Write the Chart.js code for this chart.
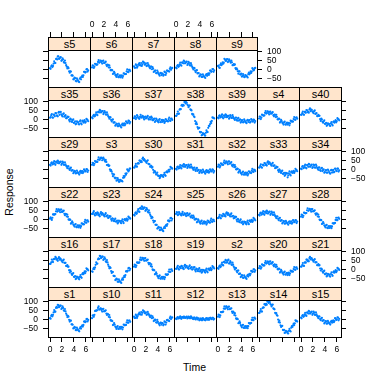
<!DOCTYPE html>
<html>
<head>
<meta charset="utf-8">
<script src="https://cdn.jsdelivr.net/npm/chart.js"></script>
<style>
  html, body { margin: 0; padding: 0; background: #fff; }
  #stage { position: relative; width: 382px; height: 382px; overflow: hidden; font-family: "Liberation Sans", Arial, Helvetica, sans-serif; }
  .strip { position: absolute; box-sizing: border-box; border: 1px solid #000; background: #FFE5CC;
           font-size: 11px; line-height: 12px; text-align: center; color: #000; z-index: 0; }
  .frame { position: absolute; box-sizing: border-box; border: 1px solid #000; z-index: 2; pointer-events: none; }
  canvas { position: absolute; z-index: 1; }
  .lab { position: absolute; font-size: 10.5px; line-height: 12px; color: #000; white-space: nowrap; }
</style>
</head>
<body>
<div id="stage"></div>
<script>
// time points shared by every subject: readings on the even grid and in between
const times = [0, 0.2, 0.4, 0.6, 0.8, 1.0, 1.2, 1.4, 1.6, 1.8, 2.0, 2.2, 2.4, 2.6, 2.8, 3.0,
  3.2, 3.4, 3.6, 3.8, 4.0, 4.2, 4.4, 4.6, 4.8, 5.0, 5.2, 5.4, 5.6, 5.8, 6.0, 6.2, 6.4];
const timesB = [0.1, 0.3, 0.5, 0.7, 0.9, 1.1, 1.3, 1.5, 1.7, 1.9, 2.1, 2.3, 2.5, 2.7, 2.9, 3.1,
  3.3, 3.5, 3.7, 3.9, 4.1, 4.3, 4.5, 4.7, 4.9, 5.1, 5.3, 5.5, 5.7, 5.9, 6.1, 6.3];
const timeTicks = [0, 2, 4, 6];
const responseTicks = [-50, 0, 50, 100];

// responses per subject
const s5  = [8, 18, 14, 33, 36, 58, 55, 72, 60, 68, 52, 55, 38, 36, 16, 14, -9, -10, -32, -33, -52, -47, -64, -55, -66, -50, -53, -33, -31, -12, -13, 3, -4];
const s5b = [4, 23, 20, 45, 36, 60, 72, 59, 66, 48, 61, 41, 49, 24, 6, 8, -17, -11, -31, -53, -44, -61, -48, -61, -68, -43, -40, -40, -12, -16, 1, -11];
const s6  = [12, 21, 16, 30, 27, 42, 38, 49, 41, 47, 36, 39, 26, 27, 12, 11, -4, -4, -20, -19, -33, -29, -40, -34, -42, -31, -35, -22, -24, -10, -13, -2, -8];
const s6b = [23, 9, 32, 27, 28, 52, 40, 48, 33, 49, 37, 43, 19, 25, 23, -3, -2, -24, -12, -29, -40, -25, -42, -31, -36, -44, -20, -25, -24, 1, -14, -1];
const s7  = [18, 10, 22, 17, 30, 24, 36, 28, 38, 27, 34, 22, 27, 12, 17, 2, 5, -9, -6, -20, -14, -27, -19, -30, -22, -28, -15, -19, -5, -8, 4, -1, 9];
const s7b = [10, 28, 10, 26, 35, 23, 20, 43, 38, 28, 19, 36, 20, 7, 16, 13, -13, -5, -19, -5, -23, -33, -18, -22, -33, -11, -29, -6, -8, -11, 12, 6];
const s8  = [11, 20, 15, 28, 25, 38, 34, 45, 36, 43, 31, 36, 22, 24, 9, 10, -6, -5, -21, -19, -33, -28, -40, -33, -41, -30, -34, -20, -21, -6, -9, 3, -4];
const s8b = [7, 25, 19, 38, 21, 40, 49, 34, 42, 25, 42, 24, 35, 15, 1, 8, -14, -3, -19, -37, -26, -40, -26, -38, -46, -24, -24, -29, -5, -12, 3, -12];
const s9  = [19, 12, 26, 24, 40, 38, 55, 48, 58, 46, 51, 38, 40, 24, 25, 8, 7, -9, -10, -26, -22, -36, -31, -41, -33, -38, -25, -26, -10, -11, 3, -1, 9];
const s9b = [22, 9, 34, 30, 32, 59, 48, 56, 41, 56, 44, 49, 24, 30, 28, 2, 1, -22, -10, -27, -38, -24, -41, -30, -35, -43, -17, -20, -18, 8, -5, 8];
const s35  = [10, 24, 12, 27, 18, 35, 22, 38, 26, 42, 22, 30, 16, 24, 8, 14, -2, 5, -10, -3, -18, -9, -22, -12, -25, -10, -20, -8, -16, -3, -12, 0, -9];
const s35b = [13, 30, 10, 25, 35, 22, 18, 42, 39, 29, 17, 34, 20, 8, 17, 15, -10, 1, -13, 2, -16, -26, -10, -15, -26, -4, -26, -6, -11, -17, 4, -3];
const s36  = [12, 20, 17, 29, 28, 41, 39, 49, 42, 47, 37, 40, 27, 28, 14, 13, -2, -1, -17, -15, -29, -24, -36, -29, -37, -28, -32, -21, -24, -13, -16, -7, -13];
const s36b = [7, 26, 20, 40, 24, 44, 53, 39, 47, 30, 47, 29, 40, 19, 5, 12, -10, 1, -15, -33, -22, -36, -22, -34, -43, -22, -24, -31, -10, -19, -6, -21];
const s37  = [8, 16, 10, 19, 7, 15, 12, 20, 9, 14, 6, 15, 4, 12, 1, 9, -3, 5, -7, 2, -10, -2, -13, -4, -12, -3, -11, -1, -8, 3, -5, 4, -2];
const s37b = [18, 3, 24, 11, 4, 26, 12, 18, 1, 17, 10, 20, 0, 12, 16, -3, 3, -13, 6, -7, -15, 3, -14, -1, -7, -18, 3, -7, -10, 11, -7, 5];
const s38  = [20, 32, 31, 54, 57, 80, 81, 96, 88, 92, 77, 76, 56, 50, 27, 18, -8, -15, -41, -46, -67, -68, -83, -78, -86, -72, -67, -45, -35, -12, -7, 10, 6];
const s38b = [22, 44, 33, 58, 77, 74, 77, 97, 95, 82, 68, 77, 53, 31, 29, 14, -23, -25, -50, -45, -70, -86, -74, -78, -87, -59, -68, -34, -25, -19, 12, 10];
const s39  = [11, 20, 12, 21, 13, 22, 14, 24, 15, 21, 12, 19, 9, 15, 4, 10, -1, 6, -6, 1, -11, -4, -14, -6, -15, -5, -13, -3, -12, -1, -10, -2, -8];
const s39b = [7, 23, 14, 28, 7, 22, 28, 13, 20, 5, 24, 9, 24, 8, -2, 11, -6, 10, -2, -16, -3, -15, 1, -12, -20, -1, -5, -16, 3, -10, 0, -16];
const s4  = [6, 15, 11, 25, 22, 37, 33, 45, 36, 42, 32, 37, 24, 27, 14, 15, 1, 4, -11, -8, -20, -15, -26, -19, -27, -18, -21, -8, -10, 3, 0, 10, 5];
const s4b = [17, 3, 27, 22, 23, 47, 35, 44, 28, 44, 34, 41, 18, 26, 26, 2, 5, -16, -2, -17, -27, -11, -28, -16, -22, -31, -6, -11, -11, 14, -1, 12];
const s40  = [26, 35, 29, 42, 37, 50, 44, 55, 46, 53, 41, 46, 31, 35, 19, 20, 3, 6, -12, -9, -23, -18, -30, -23, -32, -21, -26, -13, -17, -3, -8, 3, -4];
const s40b = [27, 44, 26, 42, 52, 40, 38, 61, 55, 44, 35, 50, 33, 19, 26, 21, -7, 0, -17, -4, -23, -34, -20, -24, -35, -13, -32, -9, -11, -15, 8, 2];
const s29  = [26, 35, 28, 38, 32, 42, 36, 44, 37, 43, 33, 38, 26, 29, 16, 18, 5, 7, -6, -3, -14, -10, -19, -13, -21, -12, -18, -8, -13, -3, -8, 1, -5];
const s29b = [22, 39, 30, 46, 26, 43, 49, 34, 42, 26, 44, 27, 40, 21, 8, 18, -2, 11, -4, -20, -7, -21, -5, -18, -27, -7, -10, -19, 1, -10, 3, -13];
const s3  = [26, 35, 32, 44, 43, 55, 54, 62, 64, 60, 58, 44, 42, 24, 20, 1, -3, -22, -26, -44, -45, -58, -56, -66, -60, -62, -45, -43, -22, -20, -3, -4, 6];
const s3b = [37, 24, 47, 42, 42, 67, 54, 66, 51, 66, 50, 53, 25, 27, 22, -7, -11, -36, -27, -48, -61, -47, -66, -56, -60, -65, -35, -35, -28, 1, -10, 5];
const s30  = [11, 20, 18, 33, 33, 49, 47, 59, 51, 52, 44, 47, 32, 28, 18, 10, -1, -8, -17, -24, -32, -34, -40, -33, -36, -28, -30, -14, -15, -1, 0, 10, 5];
const s30b = [12, 31, 16, 35, 49, 41, 41, 65, 57, 45, 37, 51, 30, 15, 20, 14, -16, -10, -27, -16, -35, -47, -30, -31, -40, -18, -34, -9, -9, -10, 15, 10];
const s31  = [4, 13, 6, 16, 12, 21, 16, 26, 18, 25, 16, 22, 12, 17, 6, 10, -1, 4, -7, -1, -12, -6, -15, -8, -16, -8, -14, -6, -12, -3, -9, -2, -8];
const s31b = [0, 17, 8, 25, 6, 23, 30, 15, 24, 9, 27, 12, 27, 10, -1, 11, -7, 9, -3, -18, -4, -17, 0, -13, -22, -3, -7, -17, 2, -10, 1, -16];
const s32  = [16, 25, 19, 31, 27, 39, 34, 44, 36, 43, 32, 37, 24, 27, 13, 15, 1, 4, -11, -8, -21, -15, -26, -19, -28, -17, -24, -12, -17, -6, -11, -2, -8];
const s32b = [27, 12, 34, 27, 26, 49, 35, 43, 29, 45, 34, 41, 18, 25, 25, 2, 5, -16, -2, -18, -27, -11, -28, -17, -22, -32, -9, -17, -19, 4, -13, -1];
const s33  = [11, 20, 14, 26, 22, 34, 29, 39, 31, 38, 27, 32, 20, 23, 9, 12, -3, 1, -14, -10, -23, -18, -29, -21, -42, -20, -26, -14, -18, -7, -11, -1, -9];
const s33b = [12, 29, 10, 26, 36, 25, 22, 45, 40, 30, 21, 37, 22, 8, 17, 14, -12, -4, -18, -5, -23, -34, -18, -21, -31, -10, -32, -10, -14, -18, 4, -3];
const s34  = [5, 16, 8, 20, 11, 25, 15, 28, 17, 27, 14, 24, 10, 19, 4, 12, -3, 6, -8, 2, -14, -3, -17, -5, -19, -4, -16, -2, -12, 4, -8, 5, -4];
const s34b = [2, 19, 11, 27, 7, 24, 31, 16, 24, 9, 27, 12, 27, 10, -1, 11, -7, 9, -2, -17, -4, -16, 0, -13, -22, -2, -6, -15, 5, -6, 5, -11];
const s22  = [5, 6, 10, 28, 29, 45, 44, 56, 48, 54, 42, 46, 32, 32, 17, 15, -1, -1, -18, -17, -31, -27, -40, -33, -42, -31, -36, -22, -25, -12, -16, -5, -11];
const s22b = [12, -2, 28, 27, 30, 57, 46, 55, 40, 55, 43, 49, 24, 30, 27, 1, 1, -22, -10, -27, -38, -24, -42, -31, -36, -45, -20, -26, -26, -2, -17, -4];
const s23  = [31, 38, 29, 36, 27, 35, 26, 34, 27, 33, 23, 29, 18, 23, 11, 15, 3, 7, -5, -1, -11, -6, -15, -8, -16, -7, -12, -1, -5, 6, 1, 11, 5];
const s23b = [31, 46, 23, 34, 39, 24, 18, 41, 35, 25, 17, 35, 21, 9, 19, 18, -6, 4, -9, 6, -11, -21, -5, -8, -20, 2, -19, 3, 0, -6, 16, 10];
const s24  = [26, 35, 31, 47, 45, 61, 58, 69, 61, 66, 53, 56, 39, 38, 19, 15, -5, -8, -28, -29, -46, -44, -57, -51, -59, -47, -46, -28, -24, -6, -5, 9, 4];
const s24b = [22, 40, 36, 57, 42, 64, 73, 58, 66, 48, 63, 43, 51, 27, 8, 11, -15, -8, -28, -49, -40, -57, -43, -56, -63, -39, -34, -34, -6, -10, 8, -5];
const s25  = [31, 38, 29, 35, 27, 33, 26, 34, 26, 33, 23, 29, 17, 22, 9, 13, 0, 4, -9, -4, -16, -10, -20, -13, -21, -12, -19, -8, -15, -4, -11, -1, -9];
const s25b = [41, 24, 41, 29, 23, 42, 26, 33, 19, 35, 25, 33, 12, 21, 22, 1, 4, -15, 2, -13, -22, -5, -22, -10, -16, -27, -5, -14, -17, 5, -12, -1];
const s26  = [8, 17, 11, 22, 18, 29, 24, 34, 26, 33, 23, 29, 17, 21, 9, 12, -1, 4, -10, -5, -17, -11, -21, -14, -22, -13, -19, -7, -12, -1, -7, 4, -4];
const s26b = [9, 26, 7, 22, 32, 20, 17, 40, 35, 25, 17, 34, 19, 7, 17, 15, -10, 0, -14, 1, -16, -26, -11, -14, -26, -5, -25, -4, -8, -13, 9, 2];
const s27  = [26, 35, 27, 38, 31, 42, 35, 44, 36, 43, 32, 38, 25, 29, 15, 18, 4, 7, -7, -3, -16, -10, -21, -14, -22, -13, -20, -10, -17, -6, -13, -4, -11];
const s27b = [22, 38, 30, 46, 26, 43, 49, 33, 42, 26, 43, 27, 39, 20, 8, 17, -3, 10, -4, -21, -8, -22, -7, -19, -28, -9, -12, -22, -3, -14, -3, -19];
const s28  = [16, 25, 21, 37, 35, 51, 48, 59, 51, 57, 45, 48, 33, 34, 17, 15, -3, -3, -21, -20, -36, -32, -45, -38, -46, -35, -37, -20, -19, -2, -3, 10, 4];
const s28b = [27, 13, 38, 34, 36, 62, 50, 58, 43, 58, 46, 51, 26, 31, 27, 0, -1, -24, -13, -31, -43, -29, -47, -35, -40, -47, -20, -22, -18, 10, -3, 11];
const s16  = [31, 40, 45, 56, 58, 64, 58, 62, 54, 58, 47, 50, 37, 37, 19, 16, -3, -4, -23, -23, -39, -36, -48, -42, -50, -40, -41, -25, -25, -9, -10, 3, -4];
const s16b = [32, 55, 41, 59, 69, 54, 48, 68, 61, 50, 40, 55, 37, 20, 24, 16, -15, -11, -29, -19, -40, -52, -38, -42, -53, -30, -45, -19, -18, -19, 7, 2];
const s17  = [-9, 3, 3, 26, 32, 56, 58, 74, 66, 71, 58, 59, 41, 39, 18, 13, -8, -12, -34, -36, -55, -53, -67, -61, -69, -56, -55, -34, -30, -8, -6, 10, 4];
const s17b = [-12, 10, 12, 40, 33, 61, 75, 63, 71, 53, 67, 45, 52, 27, 7, 9, -18, -13, -34, -57, -49, -66, -53, -66, -73, -48, -42, -40, -10, -11, 8, -4];
const s18  = [16, 25, 22, 38, 38, 54, 52, 64, 56, 62, 49, 52, 37, 36, 19, 16, -3, -4, -23, -23, -39, -36, -48, -42, -50, -39, -42, -27, -27, -11, -13, 0, -7];
const s18b = [27, 14, 39, 36, 39, 65, 54, 63, 48, 63, 50, 55, 29, 33, 29, 1, -2, -26, -15, -34, -47, -32, -50, -39, -44, -52, -26, -29, -26, 0, -13, 1];
const s19  = [4, 13, 5, 15, 8, 18, 10, 20, 11, 19, 9, 17, 6, 14, 2, 10, -2, 5, -6, 1, -10, -2, -12, -4, -12, -3, -9, 3, -3, 9, 3, 14, 6];
const s19b = [5, 21, 0, 14, 21, 7, 3, 26, 20, 11, 4, 23, 10, 0, 12, 13, -10, 3, -9, 8, -8, -17, -1, -4, -16, 5, -15, 6, 2, -3, 19, 12];
const s2  = [8, 17, 13, 28, 26, 41, 38, 49, 41, 55, 35, 40, 25, 27, 10, 10, -7, -6, -24, -22, -37, -33, -45, -38, -46, -35, -38, -23, -23, -8, -10, 2, -4];
const s2b = [4, 22, 18, 38, 23, 44, 53, 38, 50, 33, 46, 28, 38, 17, 1, 8, -15, -5, -22, -41, -30, -45, -31, -43, -51, -29, -28, -31, -7, -13, 2, -12];
const s20  = [8, 17, 12, 26, 23, 37, 33, 44, 36, 43, 32, 37, 24, 28, 14, 16, 1, 4, -11, -8, -20, -15, -26, -19, -30, -17, -21, -8, -10, 3, 0, 11, 4];
const s20b = [19, 5, 28, 23, 23, 47, 35, 43, 29, 45, 34, 41, 18, 26, 26, 3, 5, -16, -2, -17, -27, -11, -28, -18, -23, -30, -6, -11, -11, 14, -1, 12];
const s21  = [16, 25, 22, 38, 38, 54, 51, 63, 55, 61, 50, 53, 39, 40, 24, 23, 6, 6, -11, -10, -25, -21, -33, -26, -36, -24, -28, -15, -17, -3, -7, 5, -2];
const s21b = [17, 36, 20, 40, 54, 46, 45, 69, 63, 53, 43, 57, 40, 24, 30, 24, -5, 1, -17, -6, -25, -37, -23, -27, -38, -15, -34, -10, -11, -14, 9, 4];
const s1  = [8, 20, 18, 39, 43, 64, 65, 79, 71, 77, 63, 64, 47, 45, 25, 20, -1, -5, -26, -28, -46, -44, -58, -52, -60, -48, -49, -31, -29, -10, -10, 4, -2];
const s1b = [5, 26, 26, 52, 43, 69, 81, 68, 76, 58, 72, 51, 58, 33, 14, 16, -11, -6, -26, -48, -40, -57, -44, -57, -64, -41, -37, -38, -11, -14, 3, -10];
const s10  = [8, 23, 26, 49, 51, 64, 55, 62, 52, 58, 45, 48, 33, 32, 15, 12, -6, -8, -27, -27, -43, -40, -50, -42, -50, -40, -43, -28, -29, -15, -17, -5, -12];
const s10b = [22, 15, 47, 48, 51, 72, 55, 60, 44, 59, 46, 51, 25, 29, 25, -3, -5, -30, -19, -38, -51, -35, -51, -39, -44, -53, -27, -31, -29, -4, -17, -5];
const s11  = [16, 9, 20, 18, 31, 29, 41, 37, 44, 35, 40, 29, 33, 20, 22, 8, 10, -4, -2, -16, -12, -24, -18, -27, -19, -26, -13, -16, -2, -5, 8, 3, 12];
const s11b = [9, 27, 9, 27, 38, 28, 27, 51, 45, 35, 26, 42, 27, 13, 21, 18, -8, 0, -15, -2, -20, -31, -16, -19, -31, -9, -27, -3, -5, -8, 16, 10];
const s12  = [5, 11, 6, 13, 8, 14, 9, 15, 10, 16, 9, 14, 8, 13, 5, 11, 3, 9, 1, 7, -2, 5, -3, 4, -2, 6, -1, 7, 1, 9, 2, 10, 4];
const s12b = [3, 13, 8, 18, 4, 14, 17, 9, 14, 6, 17, 8, 18, 8, 3, 11, 1, 11, 5, -4, 5, -3, 8, 0, -4, 8, 5, -1, 10, 4, 10, 0];
const s13  = [16, 25, 23, 41, 42, 60, 59, 72, 64, 70, 57, 60, 44, 43, 25, 22, 3, 2, -18, -18, -35, -31, -44, -38, -46, -35, -36, -20, -19, -2, -3, 10, 4];
const s13b = [27, 14, 41, 40, 44, 72, 62, 71, 56, 71, 58, 62, 36, 39, 35, 7, 5, -20, -10, -30, -42, -28, -46, -35, -40, -47, -19, -22, -18, 10, -3, 11];
const s14  = [36, 46, 45, 63, 66, 85, 86, 99, 91, 95, 81, 80, 61, 56, 33, 24, 0, -6, -31, -36, -56, -56, -70, -66, -74, -62, -61, -44, -40, -22, -20, -7, -11];
const s14b = [37, 58, 44, 67, 84, 79, 81, 100, 98, 85, 72, 82, 59, 37, 35, 21, -14, -16, -40, -34, -58, -73, -61, -66, -76, -51, -65, -36, -32, -30, -4, -7];
const s15  = [11, 20, 15, 28, 24, 38, 33, 44, 35, 43, 32, 38, 25, 29, 15, 18, 3, 7, -7, -3, -16, -10, -21, -14, -22, -12, -17, -4, -8, 5, 0, 11, 4];
const s15b = [7, 25, 19, 37, 20, 40, 48, 33, 41, 26, 43, 27, 39, 20, 8, 17, -3, 10, -4, -21, -8, -22, -7, -19, -27, -7, -8, -14, 8, -2, 12, -4];

const responses = {
  s1: [s1, s1b], s2: [s2, s2b], s3: [s3, s3b], s4: [s4, s4b], s5: [s5, s5b], s6: [s6, s6b], s7: [s7, s7b],
  s8: [s8, s8b], s9: [s9, s9b], s10: [s10, s10b], s11: [s11, s11b], s12: [s12, s12b], s13: [s13, s13b],
  s14: [s14, s14b], s15: [s15, s15b], s16: [s16, s16b], s17: [s17, s17b], s18: [s18, s18b], s19: [s19, s19b],
  s20: [s20, s20b], s21: [s21, s21b], s22: [s22, s22b], s23: [s23, s23b], s24: [s24, s24b], s25: [s25, s25b],
  s26: [s26, s26b], s27: [s27, s27b], s28: [s28, s28b], s29: [s29, s29b], s30: [s30, s30b], s31: [s31, s31b],
  s32: [s32, s32b], s33: [s33, s33b], s34: [s34, s34b], s35: [s35, s35b], s36: [s36, s36b], s37: [s37, s37b],
  s38: [s38, s38b], s39: [s39, s39b], s40: [s40, s40b]
};

// panel order, top row first
const panelRows = [
  ['s5', 's6', 's7', 's8', 's9'],
  ['s35', 's36', 's37', 's38', 's39', 's4', 's40'],
  ['s29', 's3', 's30', 's31', 's32', 's33', 's34'],
  ['s22', 's23', 's24', 's25', 's26', 's27', 's28'],
  ['s16', 's17', 's18', 's19', 's2', 's20', 's21'],
  ['s1', 's10', 's11', 's12', 's13', 's14', 's15'],
];

const COLS = [48, 90, 132, 174, 216, 257, 299, 341];
const ROWS = [37, 87, 137, 187, 237, 287, 337];
const STRIP = 13, PAD = 4, AX_Y = 30, AX_X = 20;
const FONT = '"Liberation Sans", Arial, Helvetica, sans-serif';
const tickFont = { family: FONT, size: 8.5 };

const zeroPad = s => { s.paddingLeft = s.paddingRight = s.paddingTop = s.paddingBottom = 0; };
const minus = v => (v < 0 ? '\u2212' + Math.abs(v) : String(v));
const tickGrid = { display: true, drawOnChartArea: false, drawTicks: true, tickLength: 5, color: '#000', lineWidth: 1 };
// force a fixed axis thickness, only for axes that are shown
const fixSize = (prop, size) => s => {
  s[prop] = s.options.display ? size : 0;
  zeroPad(s);
};

const stage = document.getElementById('stage');

function addDiv(cls, x, y, w, h, text) {
  const d = document.createElement('div');
  d.className = cls;
  Object.assign(d.style, { left: x + 'px', top: y + 'px', width: w + 'px', height: h + 'px' });
  if (text) d.textContent = text;
  stage.appendChild(d);
  return d;
}

panelRows.forEach((row, r) => {
  row.forEach((name, c) => {
    const x0 = COLS[c], w = COLS[c + 1] - x0;
    const py = ROWS[r] + STRIP, h = ROWS[r + 1] - py;
    const hasLeft = c === 0, hasRight = c === row.length - 1;
    const hasTop = r === 0, hasBottom = r === panelRows.length - 1;
    const leftLab = hasLeft && r % 2 === 1, rightLab = hasRight && r % 2 === 0;
    const topLab = hasTop && c % 2 === 1, bottomLab = hasBottom && c % 2 === 0;

    addDiv('strip', x0, ROWS[r], w + 1, STRIP + 1, name);
    addDiv('frame', x0, py, w + 1, h + 1);

    const axL = hasLeft ? AX_Y : 0, axR = hasRight ? AX_Y : 0;
    const axT = hasTop ? AX_X + STRIP : 0, axB = hasBottom ? AX_X : 0;
    const cv = document.createElement('canvas');
    cv.width = w + 2 * PAD + axL + axR;
    cv.height = h + 2 * PAD + axT + axB;
    Object.assign(cv.style, { left: (x0 - PAD - axL) + 'px', top: (py - PAD - axT) + 'px',
      width: cv.width + 'px', height: cv.height + 'px' });
    stage.appendChild(cv);

    const scales = {
      x: {
        type: 'linear', min: -0.34, max: 6.7,
        display: hasTop || hasBottom, position: hasTop ? 'top' : 'bottom', weight: 1,
        afterBuildTicks: s => { s.ticks = timeTicks.map(v => ({ value: v })); },
        afterFit: fixSize('height', AX_X),
        grid: tickGrid, border: { display: false },
        ticks: { display: topLab || bottomLab, padding: hasTop ? 2 : 3, font: tickFont, color: '#000',
                 autoSkip: false, maxRotation: 0 }
      },
      y: {
        type: 'linear', min: -95, max: 107,
        display: hasLeft || hasRight, position: hasRight ? 'right' : 'left',
        afterBuildTicks: s => { s.ticks = responseTicks.map(v => ({ value: v })); },
        afterFit: fixSize('width', AX_Y),
        grid: tickGrid, border: { display: false },
        ticks: { display: leftLab || rightLab, padding: 5, font: tickFont, color: '#000',
                 autoSkip: false, callback: minus }
      }
    };
    if (hasTop) {
      // empty band between the top axis and the panel, where the strip sits
      scales.sp = {
        type: 'linear', position: 'top', weight: 0, display: true,
        grid: { display: false }, border: { display: false }, ticks: { display: false },
        afterFit: fixSize('height', STRIP)
      };
    }

    const [ya, yb] = responses[name];
    const pts = times.map((t, i) => ({ x: t, y: ya[i] }))
      .concat(timesB.map((t, i) => ({ x: t, y: yb[i] })));

    new Chart(cv, {
      type: 'scatter',
      data: { datasets: [{ data: pts, pointRadius: 1.1, pointBorderWidth: 0,
        pointBackgroundColor: '#0080FF', showLine: false }] },
      options: {
        responsive: false, animation: false, events: [],
        layout: { padding: PAD },
        plugins: { legend: { display: false }, tooltip: { enabled: false } },
        scales
      }
    });
  });
});

const ylab = addDiv('lab', 9, 192, 0, 0);
ylab.innerHTML = '<span style="position:absolute;transform:translate(-50%,-50%) rotate(-90deg)">Response</span>';
const xlab = addDiv('lab', 194.5, 367, 0, 0);
xlab.innerHTML = '<span style="position:absolute;transform:translate(-50%,-50%)">Time</span>';
</script>
</body>
</html>
